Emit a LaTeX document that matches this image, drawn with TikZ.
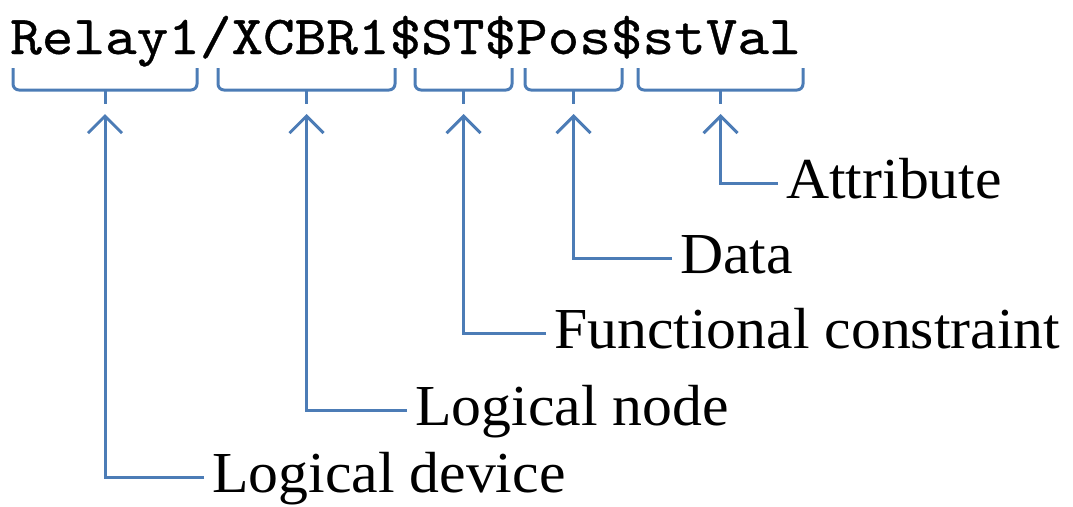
\documentclass[tikz,border=0pt]{standalone}
\usepackage{fontspec}
\setmainfont{Liberation Serif}[FakeStretch=1.03]
\newfontfamily\codefont{lmmono10-regular.otf}[FakeBold=0.6]
\usetikzlibrary{arrows.meta}
\definecolor{linkblue}{RGB}{76,124,182}
\tikzset{
  conn/.style={draw=linkblue, line width=3pt,
    -{Straight Barb[length=17pt,width=34pt,line width=3pt]}},
  bracket/.style={draw=linkblue, line width=3pt, rounded corners=6pt},
  tick/.style={draw=linkblue, line width=3pt},
  lbl/.style={font=\fontsize{58}{62}\selectfont, text height=30pt,
    text depth=0pt, inner xsep=8pt, inner ysep=0pt, anchor=west},
}
% Square bracket under a part of the reference string, with a short
% centre tick; #3 names the point just below it where an arrow ends.
\newcommand\codebrace[3]{%
  \draw[bracket] (#1,68) -- (#1,90) -- (#2,90) -- (#2,68);
  \draw[tick] ({(#1+#2)/2},90) -- ({(#1+#2)/2},104);
  \coordinate (#3) at ({(#1+#2)/2},114);
}
\begin{document}
\begin{tikzpicture}[x=1pt,y=-1pt]
\useasboundingbox (0,0) rectangle (1073,506);

% object reference string
\node[anchor=base west, inner sep=0pt, font=\fontsize{55}{58}\codefont]
  (code) at (10,54) {\scalebox{1.095}[1]{Relay1/XCBR1\$ST\$Pos\$stVal}};

\codebrace{13}{197}{tipLD}
\codebrace{218}{395}{tipLN}
\codebrace{415}{512}{tipFC}
\codebrace{525}{622}{tipD}
\codebrace{638}{803}{tipA}

% labels
\node[lbl] (attr) at (778,183) {Attribute};
\node[lbl] (data) at (672,258) {Data};
\node[lbl] (fc)   at (546,333) {Functional constraint};
\node[lbl] (ln)   at (407,410) {Logical node};
\node[lbl] (ld)   at (204,477) {Logical device};

% connectors
\draw[conn] (attr.west) -| (tipA);
\draw[conn] (data.west) -| (tipD);
\draw[conn] (fc.west)   -| (tipFC);
\draw[conn] (ln.west)   -| (tipLN);
\draw[conn] (ld.west)   -| (tipLD);
\end{tikzpicture}
\end{document}
